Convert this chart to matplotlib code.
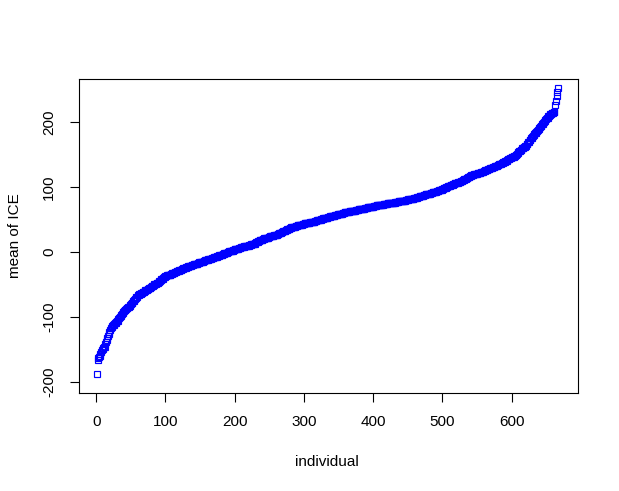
import matplotlib
matplotlib.use("Agg")
import matplotlib.pyplot as plt

plt.rcParams['font.family'] = ['Liberation Sans', 'DejaVu Sans']

# sorted mean-of-ICE values (index 1..N)
mean_ice = [
    -188, -166, -164, -162, -160, -157, -154, -151, -149, -148,
    -147, -146, -142, -139, -136, -132, -129, -126, -123, -120,
    -117, -115, -114, -113, -112, -111, -110, -109, -108, -107,
    -106, -104, -102, -100, -98, -97, -95, -94, -93, -91,
    -90, -89, -88, -87, -86, -85, -84, -83, -82, -80, -79,
    -78, -76, -75, -74, -72, -71, -70, -69, -67, -66,
    -65, -65, -64, -63, -63, -62, -61, -61, -60, -59, -59, -58, -57, -57, -56,
    -55, -55, -54, -53, -52, -52, -51, -50, -50, -49, -48, -47, -47, -46,
    -45, -44, -43, -42, -41, -41, -40, -39, -38, -37,
    -37, -36, -36, -36, -35, -35, -35,
    -34, -34, -33, -33, -32, -32, -31, -31, -30, -30, -29, -29, -28, -28, -27,
    -27, -26, -26, -25, -25, -24,
    -24, -23, -23, -23, -22, -22, -21, -21, -21, -20, -20, -20, -19, -19, -19,
    -18, -18, -18, -17, -17, -16, -16, -16, -15, -15, -15, -14, -14, -13,
    -13, -12, -12, -12, -11, -11, -10, -10, -10, -9, -9, -9, -8, -8, -7,
    -7, -7, -6, -6, -6, -5, -5, -4, -4, -4, -3, -3, -2, -2,
    -1, -1, -1, 0, 0, 1, 1, 1, 2, 2, 2, 3, 3, 4, 4,
    4, 5, 5, 5, 6, 6, 6, 7, 7, 8, 8, 8, 9, 9,
    9, 10, 10, 10, 10, 11, 11, 11, 12, 12, 12, 12, 13, 13,
    14, 15, 16, 16, 17, 17, 18, 18, 19, 19, 19, 20, 20, 21, 21,
    21, 22, 22, 22, 23, 23, 24, 24, 24, 25, 25, 25, 26, 26, 27, 27, 27, 28, 28, 29, 29,
    30, 30, 31, 31, 32, 32, 33, 33, 34, 34, 35, 35, 36, 36, 37, 37, 38, 38, 38, 39,
    39, 39, 40, 40, 40, 41, 41, 41, 41, 42, 42, 42, 43, 43, 43, 44, 44, 44, 44, 45,
    45, 45, 45, 46, 46, 46, 46, 47, 47,
    47, 48, 48, 48, 49, 49, 49, 50, 50, 50, 51, 51, 51, 52,
    52, 52, 53, 53, 53, 53, 54, 54, 54, 55, 55, 55, 55, 56, 56, 56, 57, 57, 57, 57,
    58, 58, 58, 59, 59, 59, 59, 60, 60, 60, 61, 61, 61, 62,
    62, 62, 62, 63, 63, 63, 63, 63, 64, 64, 64, 64, 65, 65,
    65, 65, 66, 66, 66, 66, 67, 67, 67, 67, 67, 68, 68, 68, 68, 69, 69, 69, 69, 70,
    70, 70, 70, 70, 71, 71, 71, 71, 72, 72, 72, 72, 73, 73,
    73, 73, 73, 73, 74, 74, 74, 74, 74, 74, 75, 75, 75, 75, 75,
    75, 76, 76, 76, 76, 76, 77, 77, 77, 77, 77, 78, 78, 78, 78, 78, 79, 79, 79, 79,
    79, 80, 80, 80, 80, 81, 81, 81, 81, 82, 82, 82, 82, 83,
    83, 84, 84, 84, 85, 85,
    85, 86, 86, 86, 87, 87, 87, 88, 88, 88, 89, 89, 89, 89, 90, 90, 90, 91, 91, 91,
    92, 92, 92, 93, 93,
    93, 94, 94, 94, 95, 95, 95,
    96, 96, 97, 97, 98, 98, 99, 99, 100, 100, 101, 101, 102, 102, 103, 103, 104, 104,
    105, 105, 106, 107,
    107, 107, 107, 108, 108, 108, 108,
    109, 110, 110, 111, 111, 112, 113, 113, 114, 114, 115, 116, 116, 117, 117, 118,
    118, 119, 119, 120, 120, 121,
    121, 121, 122, 122, 122, 122, 122,
    123, 123, 124, 124, 125, 125, 126, 126, 127, 127, 128, 128, 128, 129, 129, 130,
    130, 131, 131, 131, 132,
    132, 133, 133, 134, 134, 135, 135, 136, 136, 137, 137, 138, 139, 139, 140, 141,
    141, 142, 143, 143, 144, 145, 145, 146,
    146, 147, 147, 148, 148,
    149, 150, 151, 153, 154, 155, 156, 157, 158, 160,
    161, 161, 162, 162, 163,
    164, 166, 167, 169, 170, 172, 173, 175, 176, 177, 179, 180, 182, 183,
    184, 185, 187, 188, 190, 191, 192, 194, 195, 197, 198, 199, 201, 202, 204,
    205, 206, 207, 209, 210, 211, 213,
    213, 214, 214, 215, 216, 216, 226, 233, 240, 246, 253,
]
individual = list(range(1, len(mean_ice) + 1))

x_ticks = [0, 100, 200, 300, 400, 500, 600]
y_ticks = [-200, -100, 0, 100, 200]

W, H = 619, 491
fig = plt.figure(figsize=(W / 100, H / 100), dpi=100)
L, R, T, B = 78.5, 578, 79, 393
ax = fig.add_axes([L / W, 1 - B / H, (R - L) / W, (B - T) / H])

ax.plot(individual, mean_ice, linestyle='none', marker='s', markersize=4.4,
        markerfacecolor='none', markeredgecolor='#0000FF', markeredgewidth=0.85)

ax.set_xlim(-25.7, 696)
ax.set_ylim(-217.3, 266.7)
ax.set_xticks(x_ticks)
ax.set_yticks(y_ticks)
ax.set_yticklabels([str(v) for v in y_ticks], rotation=90, va='center')

for s in ax.spines.values():
    s.set_linewidth(0.8)
    s.set_color('black')

ax.tick_params(axis='both', direction='out', length=6.5, width=0.8,
               labelsize=11, colors='black', pad=9.5)

fig.text(327 / W, 1 - 462 / H, 'individual', ha='center', va='center', fontsize=11)
fig.text(15 / W, 1 - 236 / H, 'mean of ICE', ha='center', va='center',
         fontsize=11, rotation=90)

fig.savefig('out.png', dpi=100)
